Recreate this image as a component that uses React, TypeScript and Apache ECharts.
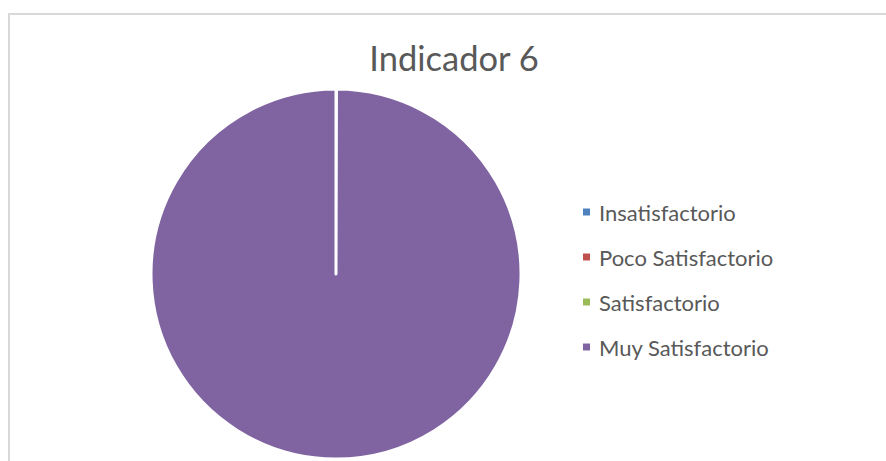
import React, { useEffect, useRef } from "react";
import * as echarts from "echarts";

const categories = ["Insatisfactorio", "Poco Satisfactorio", "Satisfactorio", "Muy Satisfactorio"];
const values = [0, 0, 0, 100];
const colors = ["#4F81BD", "#C0504D", "#9BBB59", "#8064A2"];
const titleText = "Indicador 6";

export default function App() {
  const ref = useRef<HTMLDivElement>(null);
  useEffect(() => {
    if (!ref.current) return;
    const chart = echarts.init(ref.current, undefined, { renderer: "svg" });
    chart.setOption({
      animation: false,
      backgroundColor: "#ffffff",
      title: {
        text: titleText,
        left: 449,
        textAlign: "center",
        top: 32,
        textStyle: {
          fontFamily: "Lato",
          fontSize: 34.5,
          fontWeight: "normal",
          color: "#595959",
          lineHeight: 40,
        },
      },
      legend: {
        orient: "vertical",
        left: 581,
        top: 201,
        padding: 0,
        itemWidth: 9,
        itemHeight: 9,
        itemGap: 23,
        icon: "rect",
        selectedMode: false,
        data: categories,
        textStyle: {
          fontFamily: "Lato",
          fontSize: 22,
          color: "#595959",
          lineHeight: 22,
          padding: [0, 0, 0, 3],
        },
      },
      graphic: [
        {
          type: "rect",
          silent: true,
          shape: { x: 9, y: 14, width: 900, height: 500 },
          style: { fill: "none", stroke: "#d9d9d9", lineWidth: 2 },
        },
      ],
      series: [
        {
          type: "pie",
          center: [336, 274],
          radius: 185,
          startAngle: 90,
          clockwise: true,
          minAngle: 0.05,
          label: { show: false },
          labelLine: { show: false },
          emphasis: { disabled: true },
          itemStyle: { borderColor: "#ffffff", borderWidth: 3 },
          data: categories.map((name, i) => ({
            name,
            value: values[i],
            itemStyle: { color: colors[i] },
          })),
        },
      ],
    });
    return () => chart.dispose();
  }, []);
  return (
    <div
      ref={ref}
      style={{ position: "absolute", left: 0, top: 0, width: 886, height: 461 }}
    />
  );
}
